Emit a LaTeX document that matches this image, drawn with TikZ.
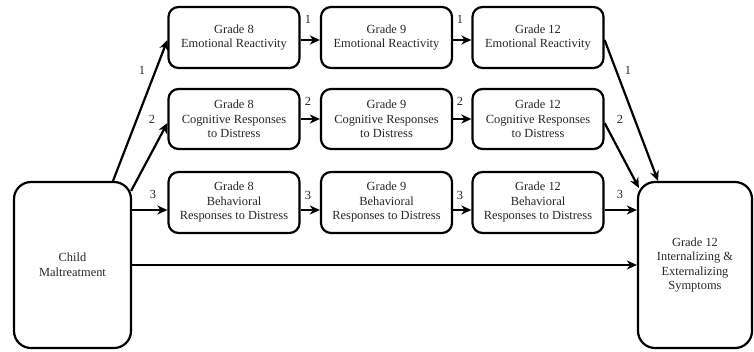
\documentclass[tikz,border=0pt]{standalone}
\usepackage{fontspec}
\setmainfont{Liberation Serif}
\usetikzlibrary{arrows.meta,calc}
\begin{document}
\begin{tikzpicture}[x=1pt,y=-1pt,
  box/.style={draw=black,line width=2.2pt,rounded corners=10pt,align=center,
    font=\fontsize{12.4}{14.5}\selectfont,inner sep=0pt,text=black!85},
  sbox/.style={box,minimum width=131pt,minimum height=61pt},
  bigbox/.style={box,rounded corners=17pt,minimum height=166pt},
  arr/.style={line width=2.2pt,-{Stealth[length=10pt,width=9pt,inset=3pt]}},
  lbl/.style={font=\fontsize{12.4}{14}\selectfont,text=black!85,inner sep=0pt}]
\useasboundingbox (0,0) rectangle (754,351);
% left and right
\node[bigbox,minimum width=117pt] (child) at (72.5,265) {Child\\Maltreatment};
\node[bigbox,minimum width=114pt] (out) at (695,265) {Grade 12\\Internalizing \&\\Externalizing\\Symptoms};
% row 1
\node[sbox] (e8) at (234,37.5) {Grade 8\\Emotional Reactivity};
\node[sbox] (e9) at (386.5,37.5) {Grade 9\\Emotional Reactivity};
\node[sbox] (e12) at (538,37.5) {Grade 12\\Emotional Reactivity};
% row 2
\node[sbox,minimum height=60pt] (c8) at (234,119) {Grade 8\\Cognitive Responses\\to Distress};
\node[sbox,minimum height=60pt] (c9) at (386.5,119) {Grade 9\\Cognitive Responses\\to Distress};
\node[sbox,minimum height=60pt] (c12) at (538,119) {Grade 12\\Cognitive Responses\\to Distress};
% row 3
\node[sbox] (b8) at (234,202.5) {Grade 8\\Behavioral\\Responses to Distress};
\node[sbox] (b9) at (386.5,202.5) {Grade 9\\Behavioral\\Responses to Distress};
\node[sbox] (b12) at (538,202.5) {Grade 12\\Behavioral\\Responses to Distress};
% arrows from child
\draw[arr] ([xshift=40.5pt]child.north) -- ([yshift=-2.5pt]e8.west);
\draw[arr] ([xshift=-1pt,yshift=-10pt]child.north east) -- ([yshift=-4pt]c8.west);
\draw[arr] ([yshift=-7.5pt]b8.west -| child.east) -- ([yshift=-7.5pt]b8.west);
\draw[arr] (child.east) -- (out.west);
% row arrows
\draw[arr] ([yshift=-2.5pt]e8.east) -- ([yshift=-2.5pt]e9.west);
\draw[arr] ([yshift=-2.5pt]e9.east) -- ([yshift=-2.5pt]e12.west);
\draw[arr] (c8.east) -- (c9.west);
\draw[arr] (c9.east) -- (c12.west);
\draw[arr] ([yshift=-7.5pt]b8.east) -- ([yshift=-7.5pt]b9.west);
\draw[arr] ([yshift=-7.5pt]b9.east) -- ([yshift=-7.5pt]b12.west);
% arrows to outcome
\draw[arr] ([yshift=-2.5pt]e12.east) -- ([xshift=-37pt]out.north);
\draw[arr] ([yshift=-4pt]c12.east) -- ([xshift=2pt,yshift=-7pt]out.north west);
\draw[arr] ([yshift=-7.5pt]b12.east) -- ([yshift=-7.5pt]b12.east -| out.west);
% labels
\node[lbl] (la1) at (142,70) {1};
\node[lbl] (la2) at (152,119) {2};
\node[lbl] (la3) at (153,194) {3};
\node[lbl] (lb1) at (308,19) {1};
\node[lbl] (lb2) at (308,101) {2};
\node[lbl] (lb3) at (308,195) {3};
\node[lbl] (lc1) at (460,19) {1};
\node[lbl] (lc2) at (460,101) {2};
\node[lbl] (lc3) at (460,195) {3};
\node[lbl] (ld1) at (628,70) {1};
\node[lbl] (ld2) at (620,119) {2};
\node[lbl] (ld3) at (620,194) {3};
\end{tikzpicture}
\end{document}
